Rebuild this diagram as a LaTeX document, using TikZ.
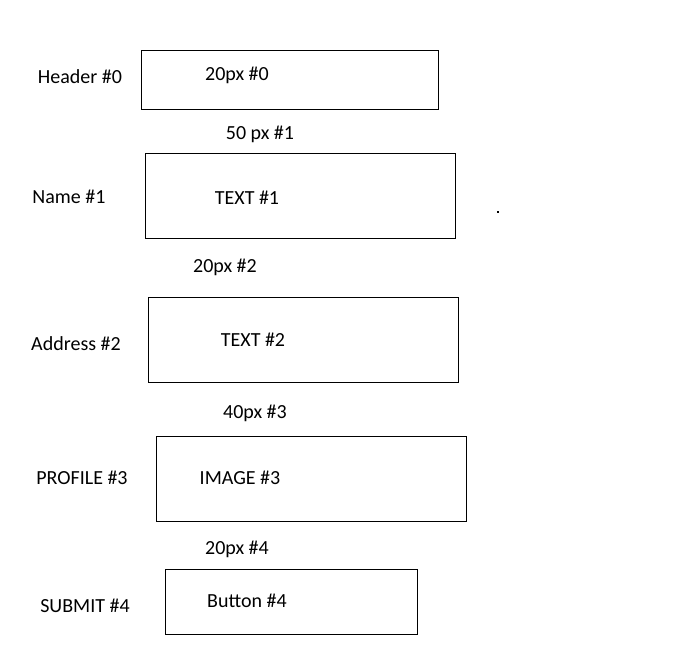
\documentclass[tikz,border=0pt]{standalone}
\usepackage{fontspec}
\setmainfont{Carlito}

\begin{document}
\begin{tikzpicture}[x=0.75pt,y=-0.75pt,line width=0.75pt,
  every node/.style={font=\fontsize{15}{17}\selectfont, inner sep=0pt}]

\useasboundingbox (0,0) rectangle (686,670);

% row 0
\draw (141,50.5)  rectangle (438,109.5);
\node (head0) at (80,77) {Header \#0};
\node (size0) at (237,75) {20px \#0};

% row 1
\node (gap1) at (260,134) {50 px \#1};
\draw (145,153.5)  rectangle (455,238.5);
\node (name1) at (69,197) {Name \#1};
\node (text1) at (247,198) {TEXT \#1};

% stray dot
\fill (497,211) rectangle (499,213);

% row 2
\node (gap2) at (225,267) {20px \#2};
\draw (148,297.5)  rectangle (458,382.5);
\node (addr2) at (76,344) {Address \#2};
\node (text2) at (253,340) {TEXT \#2};

% row 3
\node (gap3) at (255,413) {40px \#3};
\draw (156,436.5)  rectangle (466,521.5);
\node (prof3) at (82,478) {PROFILE \#3};
\node (img3) at (240,478) {IMAGE \#3};

% row 4
\node (gap4) at (237,549) {20px \#4};
\draw (165,569.5)  rectangle (417,634.5);
\node (sub4) at (85,606) {SUBMIT \#4};
\node (btn4) at (247,601) {Button \#4};

\end{tikzpicture}
\end{document}
